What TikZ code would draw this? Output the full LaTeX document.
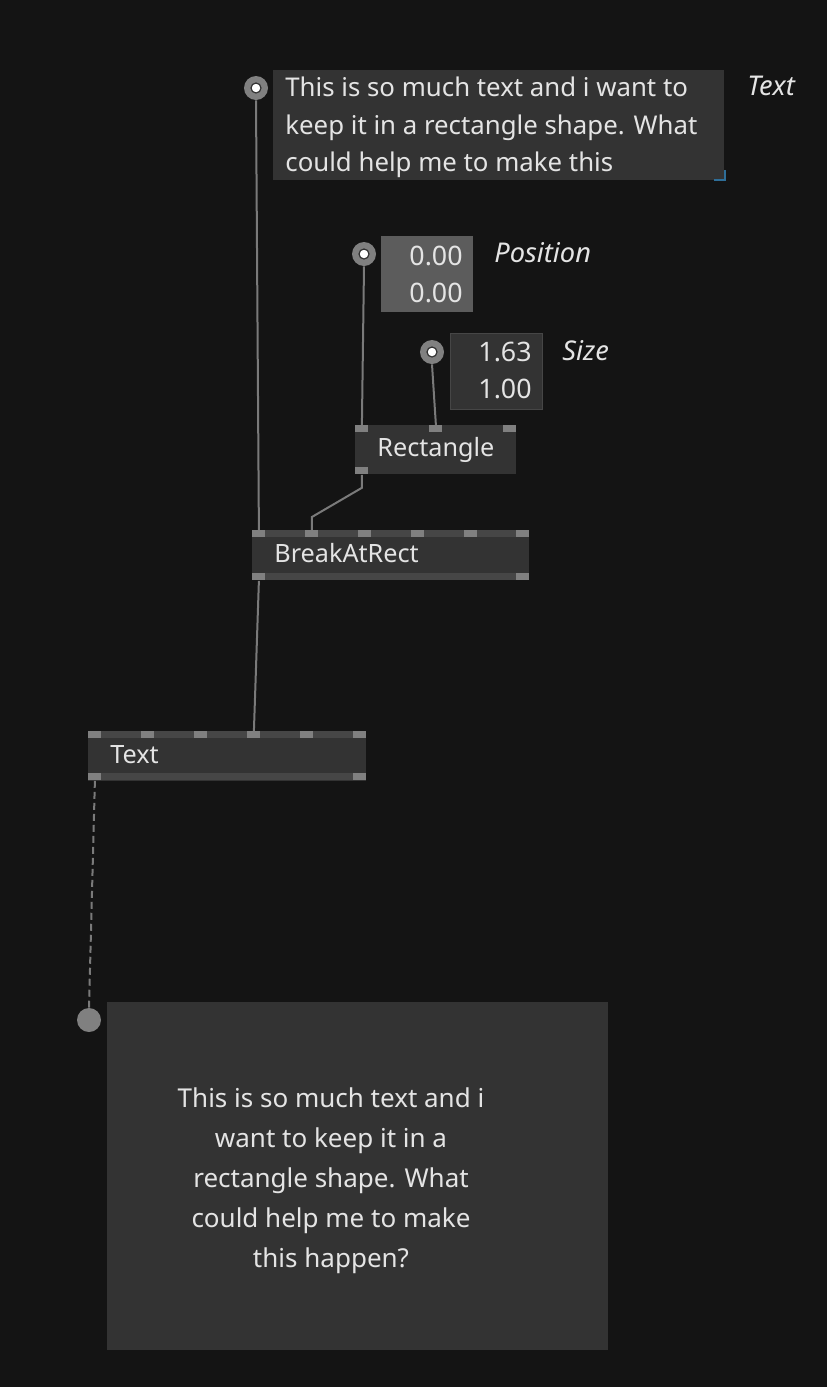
\documentclass[tikz,border=0pt]{standalone}
\usepackage{fontspec}
\setmainfont{Noto Sans}
\newfontfamily\viewfont{Noto Sans}
\usetikzlibrary{calc}

\definecolor{canvas}{HTML}{141414}
\definecolor{nodebody}{HTML}{333333}
\definecolor{nodeband}{HTML}{464646}
\definecolor{portgray}{HTML}{808080}
\definecolor{wiregray}{HTML}{7A7A7A}
\definecolor{uiwhite}{HTML}{E4E4E4}
\definecolor{valuebox}{HTML}{5C5C5C}
\definecolor{cornerblue}{HTML}{2E6E98}

\tikzset{
  body/.style={fill=nodebody, inner sep=0pt, anchor=north west},
  band/.style={fill=nodeband, inner sep=0pt, anchor=north west, minimum height=3.5pt},
  port/.style={fill=portgray, inner sep=0pt, anchor=north west, minimum width=6.5pt, minimum height=3.5pt},
  iopad/.style={circle, fill=portgray, inner sep=0pt, minimum size=12pt},
  wire/.style={draw=wiregray, line width=1pt},
  uitext/.style={text=uiwhite, inner sep=0pt, anchor=base west, font=\fontsize{12.9}{15}\selectfont},
  title/.style={uitext, font=\fontsize{12.6}{15}\selectfont},
  padlabel/.style={uitext, font=\fontsize{13.6}{15}\selectfont\itshape},
  valnum/.style={uitext, anchor=base east, font=\fontsize{13.4}{15}\selectfont},
  viewtext/.style={text=uiwhite, inner sep=0pt, anchor=base, font=\viewfont\fontsize{13}{15}\selectfont},
}

\begin{document}
\begin{tikzpicture}[x=0.5pt, y=-0.5pt]
\fill[canvas] (0,0) rectangle (827,1387);
\useasboundingbox (0,0) rectangle (827,1387);

% string input
\node[body, minimum width=225.5pt, minimum height=55pt] (textbox) at (273,70) {};
\node[uitext] at (285,96) {This is so much text and i want to};
\node[uitext] at (285,134) {keep it in a rectangle shape. What};
\node[uitext] at (285,171) {could help me to make this};
\draw[cornerblue, line width=1pt] (714,180) -- (725,180) -- (725,170);
\node[iopad] (textpad) at (256,88) {};
\node[padlabel] at (747,95) {Text};

% vector inputs
\node[body, fill=valuebox, minimum width=46pt, minimum height=38pt] (posbox) at (381,236) {};
\node[valnum] at (463,265) {0.00};
\node[valnum] at (463,302) {0.00};
\node[iopad] (pospad) at (364,254) {};
\node[padlabel] at (494,262) {Position};

\node[body, draw=nodeband, minimum width=46pt, minimum height=38pt] (sizebox) at (450,333) {};
\node[valnum] at (532,361) {1.63};
\node[valnum] at (532,398) {1.00};
\node[iopad] (sizepad) at (432,352) {};
\node[padlabel] at (562,360) {Size};

% Rectangle
\node[body, minimum width=80.5pt, minimum height=24.5pt] (rect) at (355,425) {};
\foreach \x [count=\n] in {355,429,503}
  \node[port] (rect-in\n) at (\x,425) {};
\node[port] (rect-out) at (355,467) {};
\node[title] at (377,456) {Rectangle};

% BreakAtRect
\node[body, minimum width=138.5pt, minimum height=25pt] (brk) at (252,530) {};
\node[band, minimum width=138.5pt] at (252,530) {};
\node[band, minimum width=138.5pt] at (252,573) {};
\foreach \x [count=\n] in {252,305,358,411,464,516}
  \node[port] (brk-in\n) at (\x,530) {};
\node[port] (brk-out1) at (252,573) {};
\node[port] (brk-out2) at (516,573) {};
\node[title] at (274,562) {BreakAtRect};

% Text
\node[body, minimum width=139pt, minimum height=25pt] (txt) at (88,731) {};
\node[band, minimum width=139pt] at (88,731) {};
\node[band, minimum width=139pt] at (88,773) {};
\foreach \x [count=\n] in {88,141,194,247,300,353}
  \node[port] (txt-in\n) at (\x,731) {};
\node[port] (txt-out1) at (88,773) {};
\node[port] (txt-out2) at (353,773) {};
\node[title] at (110,763) {Text};

% renderer
\node[body, minimum width=250.5pt, minimum height=174pt] (view) at (107,1002) {};
\node[iopad] (viewpad) at (89,1020) {};
\foreach \line [count=\n] in {This is so much text and i, want to keep it in a,
    rectangle shape. What, could help me to make, this happen?}
  \node[viewtext] at (331,1067+40*\n) {\line};

% wires
\draw[wire] (textpad.south) -- (brk-in1.north);
\draw[wire] (pospad.south) -- (rect-in1.north);
\draw[wire] (sizepad.south) -- (rect-in2.north);
\draw[wire] (rect-out.south) -- ++(0,13) -- ($(brk-in2.north)+(0,-13)$) -- (brk-in2.north);
\draw[wire] (brk-out1.south) -- (txt-in4.north);
\draw[wire, dash pattern=on 3.5pt off 2pt] (txt-out1.south) -- (viewpad.north);

\foreach \p in {textpad,pospad,sizepad}
  \filldraw[fill=white, draw=nodebody, line width=0.6pt] (\p.center) circle[radius=5];
\end{tikzpicture}
\end{document}
